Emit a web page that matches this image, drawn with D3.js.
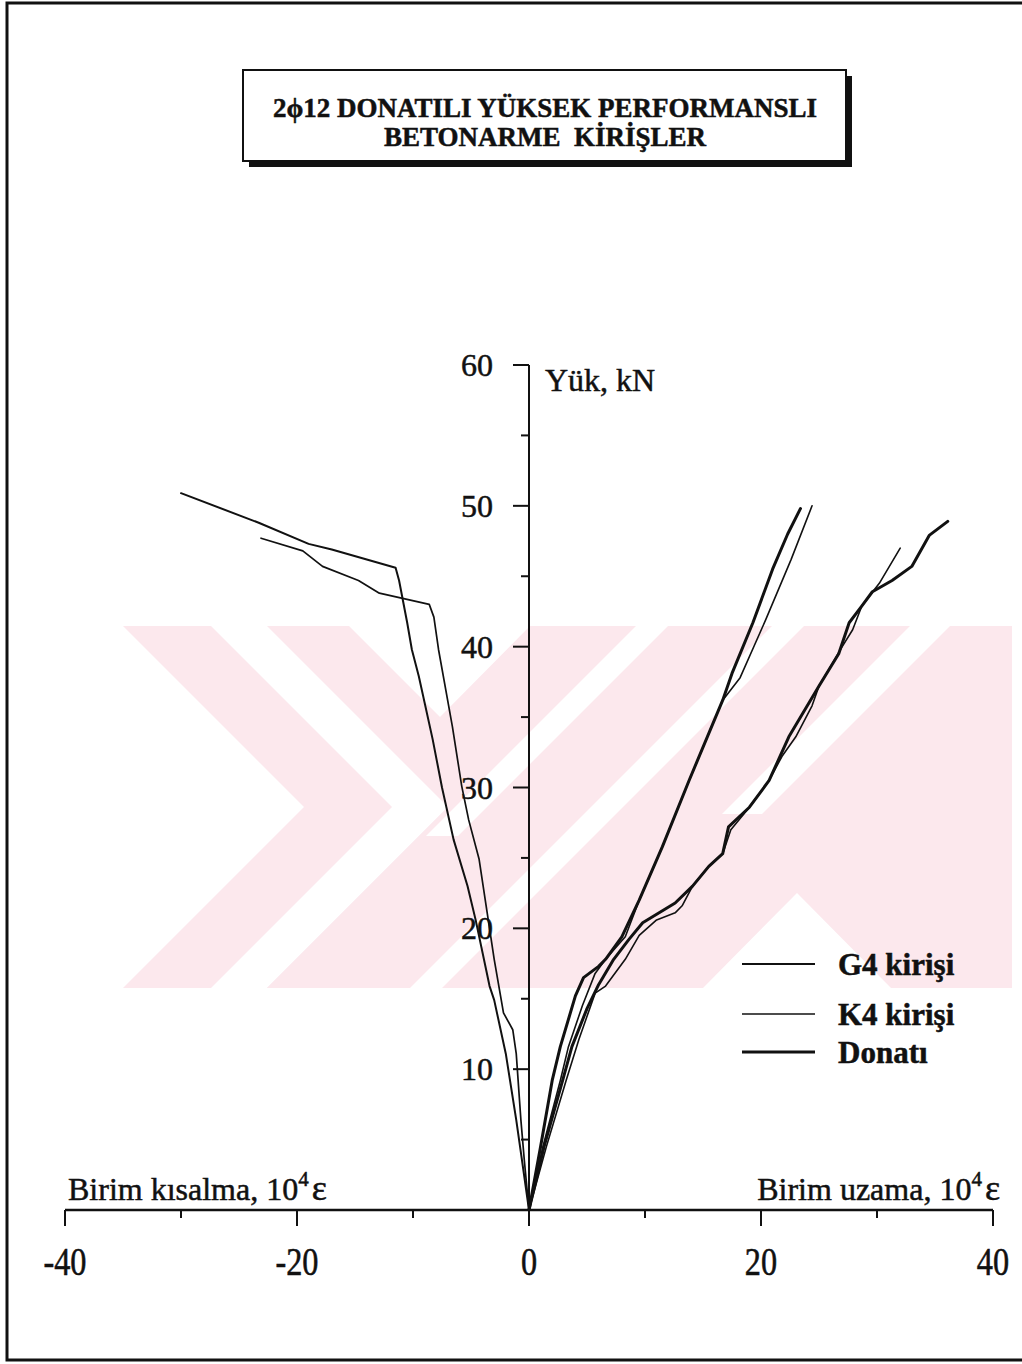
<!DOCTYPE html>
<html>
<head>
<meta charset="utf-8">
<script src="https://cdn.jsdelivr.net/npm/d3@7"></script>
<style>
  html, body { margin: 0; padding: 0; background: #fff; }
  svg { display: block; }
  text { font-family: "Liberation Serif", "Times New Roman", serif; fill: #111; stroke: #111; stroke-width: 0.5px; }
</style>
</head>
<body>
<svg id="chart" width="1022" height="1364"></svg>
<script>
// Axis ticks
const xTicksMajor = [-40, -20, 0, 20, 40];
const xTicksMinor = [-30, -10, 10, 30];
const yTicksMajor = [10, 20, 30, 40, 50, 60];
const yTicksMinor = [5, 15, 25, 35, 45, 55];

// Strain (10^4 ε) vs load (kN)
const g4Compression = [[0,0],[-0.6,3.5],[-1.1,6.4],[-2.0,11.1],[-3.0,14.9],[-3.4,15.9],[-4.6,20.6],[-5.3,23.0],[-6.5,26.3],[-7.5,30.0],[-8.3,33.4],[-9.5,37.9],[-10.1,39.8],[-10.5,41.7],[-11.2,44.7],[-11.5,45.6],[-17.0,46.9],[-19.0,47.3],[-23.3,48.8],[-30.0,50.9]];
const k4Compression = [[0,0],[-0.4,3.5],[-0.7,6.4],[-1.1,11.1],[-1.4,12.8],[-2.2,14.0],[-3.0,17.8],[-4.3,24.9],[-5.2,27.7],[-5.8,30.1],[-6.6,34.3],[-7.8,39.8],[-8.2,42.1],[-8.6,43.0],[-12.9,43.8],[-14.7,44.7],[-17.8,45.7],[-19.5,46.8],[-23.1,47.7]];
const g4Tension = [[0,0],[1.2,4.5],[2.7,9.2],[3.4,11.6],[4.6,14.5],[5.7,16.8],[6.6,17.8],[8.3,19.4],[9.5,22.0],[11.5,25.8],[13.8,30.5],[16.7,36.2],[18.2,37.8],[20.4,41.9],[22.6,46.2],[24.4,50.0]];
const k4Tension = [[0,0],[1.5,4.5],[3.2,9.2],[4.3,12.1],[5.7,15.4],[6.6,15.9],[8.3,17.8],[9.5,19.5],[11.0,20.6],[12.6,21.1],[13.2,21.6],[14.1,23.0],[15.5,24.4],[16.7,25.3],[17.4,27.0],[19.0,28.6],[20.7,30.5],[21.8,32.2],[23.0,33.6],[24.4,35.8],[25.0,37.2],[27.0,40.0],[27.9,41.2],[28.7,42.9],[30.2,44.5],[32.0,47.0]];
const g4Rebar = [[0,0],[1.0,4.5],[2.0,9.2],[2.7,11.6],[4.0,15.2],[4.7,16.5],[6.0,17.3],[6.6,17.8],[8.0,19.4],[9.5,22.0],[11.5,25.8],[13.8,30.5],[16.7,36.2],[17.5,38.1],[19.3,41.7],[21.0,45.5],[22.3,48.0],[23.4,49.8]];
const k4Rebar = [[0,0],[1.3,4.5],[2.9,9.2],[3.7,11.6],[5.0,14.3],[6.0,16.0],[7.3,17.8],[8.6,19.2],[9.8,20.4],[12.6,21.8],[14.1,23.0],[15.5,24.4],[16.7,25.3],[17.2,27.2],[19.0,28.6],[20.7,30.5],[22.4,33.6],[25.0,37.2],[26.7,39.5],[27.6,41.7],[28.7,42.9],[29.6,43.9],[31.3,44.7],[33.0,45.7],[34.5,47.9],[36.1,48.9]];

const legendLabels = ["G4 kirişi", "K4 kirişi", "Donatı"];
const titleLines = ["2ϕ12 DONATILI YÜKSEK PERFORMANSLI", "BETONARME  KİRİŞLER"];

const svg = d3.select("#chart");
const ink = "#111";

const x = d3.scaleLinear().domain([-40, 40]).range([65, 993]);
const y = d3.scaleLinear().domain([0, 60]).range([1210, 365]);

// Page frame
svg.append("path")
  .attr("d", "M1022,3 H7 V1360 H1022")
  .attr("fill", "none").attr("stroke", ink).attr("stroke-width", 3);

// Background emblem: light pink chevron bands with white diagonal gaps
const emblem = svg.append("g");
emblem.append("clipPath").attr("id", "emblemClip")
  .append("rect").attr("x", 118).attr("y", 626).attr("width", 894).attr("height", 362);
const eg = emblem.append("g").attr("clip-path", "url(#emblemClip)");
const pink = "#fce8ed";
const bands = [
  [[123,626],[211,626],[392,807],[211,988],[123,988],[304,807]],
  [[267,626],[349,626],[530,807],[349,988],[267,988],[448,807]],
  [[530,626],[1012,626],[1012,988],[267,988],[448,807],[440,717]]
];
const cuts = [
  [[636,626],[668,626],[458,836],[426,836]],
  [[772,626],[804,626],[442,988],[410,988]],
  [[910,626],[950,626],[762,814],[722,814]],
  [[797,893],[703,988],[891,988]]
];
bands.forEach(p => eg.append("polygon").attr("points", p.join(" ")).attr("fill", pink));
cuts.forEach(p => eg.append("polygon").attr("points", p.join(" ")).attr("fill", "#fff"));

// Title box with drop shadow
svg.append("rect").attr("x", 249).attr("y", 76).attr("width", 603).attr("height", 91).attr("fill", ink);
svg.append("rect").attr("x", 243).attr("y", 70).attr("width", 603).attr("height", 91)
  .attr("fill", "#fff").attr("stroke", ink).attr("stroke-width", 2);
svg.append("g").selectAll("text").data(titleLines).join("text")
  .attr("x", 545).attr("y", (d, i) => 117 + i * 29)
  .attr("text-anchor", "middle")
  .attr("font-size", 27).attr("font-weight", "bold")
  .style("white-space", "pre")
  .text(d => d);

// Y axis
const yAxis = svg.append("g");
yAxis.append("line").attr("x1", x(0)).attr("x2", x(0)).attr("y1", y(0)).attr("y2", y(60))
  .attr("stroke", ink).attr("stroke-width", 2);
yAxis.selectAll(".ymaj").data(yTicksMajor).join("line")
  .attr("x1", x(0) - 16).attr("x2", x(0)).attr("y1", d => y(d)).attr("y2", d => y(d))
  .attr("stroke", ink).attr("stroke-width", 2);
yAxis.selectAll(".ymin").data(yTicksMinor).join("line")
  .attr("class", "ymin")
  .attr("x1", x(0) - 8).attr("x2", x(0)).attr("y1", d => y(d)).attr("y2", d => y(d))
  .attr("stroke", ink).attr("stroke-width", 2);
yAxis.selectAll("text").data(yTicksMajor).join("text")
  .attr("x", x(0) - 36).attr("y", d => y(d) + 11)
  .attr("text-anchor", "end").attr("font-size", 32)
  .text(d => d);
svg.append("text").attr("x", 545).attr("y", 391).attr("font-size", 32).text("Yük, kN");

// X axis
const xAxis = svg.append("g");
xAxis.append("line").attr("x1", x(-40)).attr("x2", x(40)).attr("y1", y(0)).attr("y2", y(0))
  .attr("stroke", ink).attr("stroke-width", 2.5);
xAxis.selectAll(".xmaj").data(xTicksMajor).join("line")
  .attr("x1", d => x(d)).attr("x2", d => x(d)).attr("y1", y(0)).attr("y2", y(0) + 16)
  .attr("stroke", ink).attr("stroke-width", 2);
xAxis.selectAll(".xmin").data(xTicksMinor).join("line")
  .attr("class", "xmin")
  .attr("x1", d => x(d)).attr("x2", d => x(d)).attr("y1", y(0)).attr("y2", y(0) + 8)
  .attr("stroke", ink).attr("stroke-width", 2);
xAxis.selectAll("text").data(xTicksMajor).join("text")
  .attr("transform", d => `translate(${x(d)},1275) scale(0.95,1.15)`)
  .attr("text-anchor", "middle").attr("font-size", 34)
  .text(d => d);

function axisTitle(xPos, anchor, label) {
  const t = svg.append("text").attr("x", xPos).attr("y", 1200)
    .attr("font-size", 32).attr("text-anchor", anchor);
  t.append("tspan").text(label + ", 10");
  t.append("tspan").attr("font-size", 21).attr("dy", -14).text("4");
  t.append("tspan").attr("font-size", 36).attr("dy", 14).attr("dx", 3).text("ε");
}
axisTitle(68, "start", "Birim kısalma");
axisTitle(1000, "end", "Birim uzama");

// Curves
const line = d3.line().x(d => x(d[0])).y(d => y(d[1]));
const series = [
  { data: g4Compression, w: 2.0 },
  { data: k4Compression, w: 1.7 },
  { data: g4Tension, w: 1.6 },
  { data: k4Tension, w: 1.6 },
  { data: g4Rebar, w: 3.0 },
  { data: k4Rebar, w: 3.0 }
];
svg.append("g").selectAll("path").data(series).join("path")
  .attr("d", d => line(d.data))
  .attr("fill", "none").attr("stroke", ink)
  .attr("stroke-width", d => d.w)
  .attr("stroke-linejoin", "round").attr("stroke-linecap", "round");

// Legend
const legendW = [1.8, 1.4, 3.0];
const legendY = [964, 1014, 1052];
const leg = svg.append("g");
legendLabels.forEach((lab, i) => {
  leg.append("line").attr("x1", 742).attr("x2", 815).attr("y1", legendY[i]).attr("y2", legendY[i])
    .attr("stroke", ink).attr("stroke-width", legendW[i]);
  leg.append("text").attr("x", 838).attr("y", legendY[i] + 11)
    .attr("font-size", 31).attr("font-weight", "bold").text(lab);
});
</script>
</body>
</html>
